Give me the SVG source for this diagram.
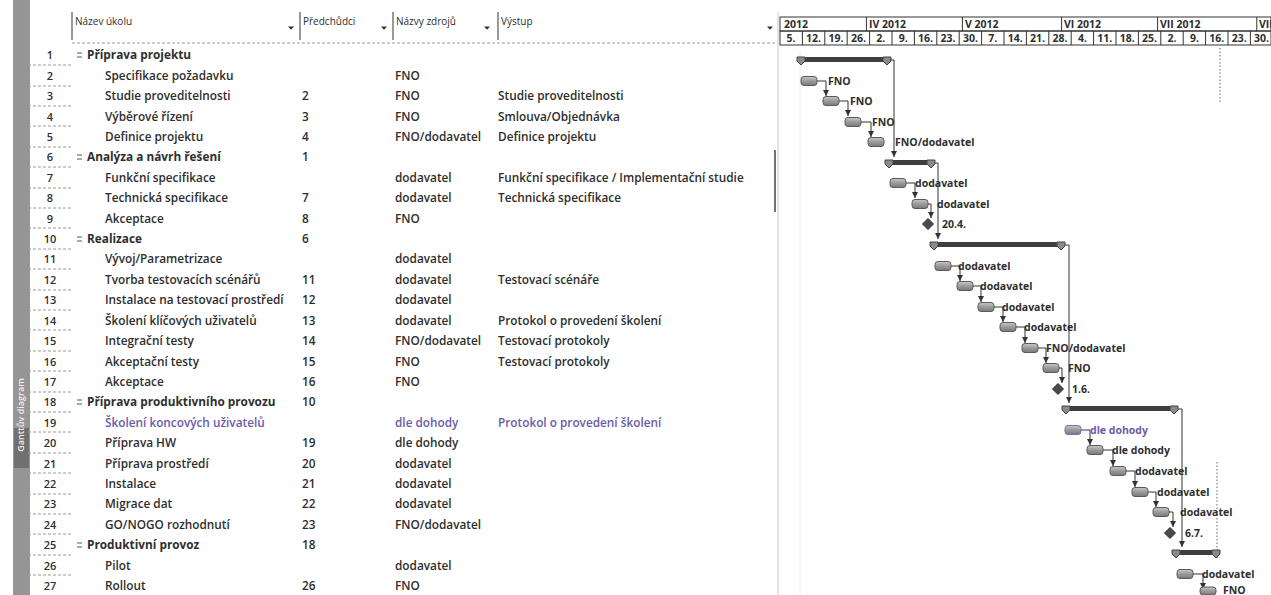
<svg xmlns="http://www.w3.org/2000/svg" xmlns:xlink="http://www.w3.org/1999/xlink" width="1271" height="595" viewBox="0 0 1271 595">
<style>
text { font-family: "Open Sans", "Liberation Sans", sans-serif; fill: #2e2e2e; }
.t { font-size: 11.8px; font-weight: 600; }
.s { font-size: 11.8px; font-weight: 700; }
.p { fill: #6b5ca8; }
.n { font-size: 11px; font-weight: 600; text-anchor: middle; }
.h { font-size: 10px; font-weight: 400; }
.tl { font-size: 10.5px; font-weight: 700; }
.wk { font-size: 10.5px; font-weight: 700; text-anchor: middle; }
.cl { font-size: 10.5px; font-weight: 700; }
.bar { fill: url(#bg); stroke: #5a5a5a; stroke-width: 1; }
.barp { fill: url(#bg); stroke: #7a6cc0; stroke-width: 1; }
.sum { fill: #3e3e3e; }
.ms { fill: #4a4a4a; stroke: #2e2e2e; stroke-width: 1; }
.lnk { fill: none; stroke: #333; stroke-width: 1; marker-end: url(#ah); }
.grid { stroke: #9a9a9a; stroke-width: 1; stroke-dasharray: 3 2; }
.hb { stroke: #333; stroke-width: 1; fill: none; }
.dd { fill: #333; }
.ol { stroke: #555; stroke-width: 1; }
</style>
<defs>
<linearGradient id="bg" x1="0" y1="0" x2="0" y2="1">
<stop offset="0" stop-color="#c8c8c8"/>
<stop offset="0.5" stop-color="#9a9a9a"/>
<stop offset="1" stop-color="#7a7a7a"/>
</linearGradient>
<path id="cap" d="M-4,-3 H4 V1 L0,5 L-4,1 Z" fill="#8a8a8a" stroke="#444" stroke-width="1"/>
<path id="dia" d="M0,-5.5 L5.5,0 L0,5.5 L-5.5,0 Z"/>
<path id="dd" d="M-3,-1.5 H3 L0,1.8 Z"/>
<marker id="ah" viewBox="0 0 6 6" refX="6" refY="3" markerWidth="6" markerHeight="6" orient="auto" markerUnits="userSpaceOnUse">
<path d="M0,0 L6,3 L0,6 Z" fill="#333"/>
</marker>
</defs>
<rect width="1271" height="595" fill="#ffffff"/>

<!-- left strip -->
<g id="strip">
<rect x="13" y="0" width="17" height="595" fill="#959595"/>
<rect x="14" y="428" width="15" height="40" fill="#707070"/>
<text x="0" y="0" transform="translate(24,415) rotate(-90)" text-anchor="middle" style="font-size:9px;font-weight:600;fill:#eeeeee">Ganttův diagram</text>
</g>

<!-- table header -->
<g id="table-header">
<line class="hb" x1="72" y1="12" x2="72" y2="40"/>
<line class="hb" x1="300" y1="12" x2="300" y2="40"/>
<line class="hb" x1="393" y1="12" x2="393" y2="40"/>
<line class="hb" x1="498" y1="12" x2="498" y2="40"/>
<line class="grid" x1="72" y1="43" x2="777" y2="43"/>
<text class="h" x="75" y="25">Název úkolu</text>
<text class="h" x="303" y="25">Předchůdci</text>
<text class="h" x="396" y="25">Názvy zdrojů</text>
<text class="h" x="501" y="25">Výstup</text>
<use href="#dd" x="291" y="28" class="dd"/>
<use href="#dd" x="384" y="28" class="dd"/>
<use href="#dd" x="487" y="28" class="dd"/>
<use href="#dd" x="770" y="28" class="dd"/>
</g>

<!-- row number grid -->
<g id="row-grid">
<line class="grid" x1="28" y1="65" x2="72" y2="65"/>
<line class="grid" x1="28" y1="86" x2="72" y2="86"/>
<line class="grid" x1="28" y1="106" x2="72" y2="106"/>
<line class="grid" x1="28" y1="126" x2="72" y2="126"/>
<line class="grid" x1="28" y1="147" x2="72" y2="147"/>
<line class="grid" x1="28" y1="167" x2="72" y2="167"/>
<line class="grid" x1="28" y1="188" x2="72" y2="188"/>
<line class="grid" x1="28" y1="208" x2="72" y2="208"/>
<line class="grid" x1="28" y1="228" x2="72" y2="228"/>
<line class="grid" x1="28" y1="249" x2="72" y2="249"/>
<line class="grid" x1="28" y1="269" x2="72" y2="269"/>
<line class="grid" x1="28" y1="290" x2="72" y2="290"/>
<line class="grid" x1="28" y1="310" x2="72" y2="310"/>
<line class="grid" x1="28" y1="330" x2="72" y2="330"/>
<line class="grid" x1="28" y1="351" x2="72" y2="351"/>
<line class="grid" x1="28" y1="371" x2="72" y2="371"/>
<line class="grid" x1="28" y1="392" x2="72" y2="392"/>
<line class="grid" x1="28" y1="412" x2="72" y2="412"/>
<line class="grid" x1="28" y1="432" x2="72" y2="432"/>
<line class="grid" x1="28" y1="453" x2="72" y2="453"/>
<line class="grid" x1="28" y1="473" x2="72" y2="473"/>
<line class="grid" x1="28" y1="494" x2="72" y2="494"/>
<line class="grid" x1="28" y1="514" x2="72" y2="514"/>
<line class="grid" x1="28" y1="534" x2="72" y2="534"/>
<line class="grid" x1="28" y1="555" x2="72" y2="555"/>
<line class="grid" x1="28" y1="575" x2="72" y2="575"/>
</g>

<!-- borders -->
<g id="borders">
<line x1="778" y1="12" x2="778" y2="595" stroke="#c8c8c8" stroke-width="1"/>
<line x1="775" y1="150" x2="775" y2="212" stroke="#444" stroke-width="1.5"/>
<line x1="800" y1="52" x2="800" y2="595" stroke="#ececec" stroke-width="1"/>
<line x1="1220" y1="48" x2="1220" y2="104" stroke="#666" stroke-width="1" stroke-dasharray="1.5 2"/>
<line x1="1217" y1="462" x2="1217" y2="560" stroke="#666" stroke-width="1" stroke-dasharray="1.5 2"/>
</g>

<!-- timescale -->
<g id="timescale">
<rect class="hb" x="780" y="17" width="491" height="14"/>
<rect class="hb" x="780" y="31" width="491" height="14"/>
<line class="hb" x1="866.4" y1="17" x2="866.4" y2="31"/>
<line class="hb" x1="962.4" y1="17" x2="962.4" y2="31"/>
<line class="hb" x1="1061.6" y1="17" x2="1061.6" y2="31"/>
<line class="hb" x1="1157.6" y1="17" x2="1157.6" y2="31"/>
<line class="hb" x1="1256.8" y1="17" x2="1256.8" y2="31"/>
<text class="tl" x="784" y="28">2012</text>
<text class="tl" x="869" y="28">IV 2012</text>
<text class="tl" x="965" y="28">V 2012</text>
<text class="tl" x="1064" y="28">VI 2012</text>
<text class="tl" x="1160" y="28">VII 2012</text>
<text class="tl" x="1259" y="28">VIII 2012</text>
<path class="hb" d="M802.4,31V45 M824.8,31V45 M847.2,31V45 M869.6,31V45 M892,31V45 M914.4,31V45 M936.8,31V45 M959.2,31V45 M981.6,31V45 M1004,31V45 M1026.4,31V45 M1048.8,31V45 M1071.2,31V45 M1093.6,31V45 M1116,31V45 M1138.4,31V45 M1160.8,31V45 M1183.2,31V45 M1205.6,31V45 M1228,31V45 M1250.4,31V45"/>
<text class="wk" x="791" y="42">5.</text>
<text class="wk" x="813.6" y="42">12.</text>
<text class="wk" x="836" y="42">19.</text>
<text class="wk" x="858.4" y="42">26.</text>
<text class="wk" x="880.8" y="42">2.</text>
<text class="wk" x="903.2" y="42">9.</text>
<text class="wk" x="925.6" y="42">16.</text>
<text class="wk" x="948" y="42">23.</text>
<text class="wk" x="970.4" y="42">30.</text>
<text class="wk" x="992.8" y="42">7.</text>
<text class="wk" x="1015.2" y="42">14.</text>
<text class="wk" x="1037.6" y="42">21.</text>
<text class="wk" x="1060" y="42">28.</text>
<text class="wk" x="1082.4" y="42">4.</text>
<text class="wk" x="1104.8" y="42">11.</text>
<text class="wk" x="1127.2" y="42">18.</text>
<text class="wk" x="1149.6" y="42">25.</text>
<text class="wk" x="1172" y="42">2.</text>
<text class="wk" x="1194.4" y="42">9.</text>
<text class="wk" x="1216.8" y="42">16.</text>
<text class="wk" x="1239.2" y="42">23.</text>
<text class="wk" x="1261.6" y="42">30.</text>
</g>

<!-- connectors -->
<g id="links">
<path class="lnk" d="M891,60 H894 V157"/>
<path class="lnk" d="M817,81 H826 V96"/>
<path class="lnk" d="M839,101 H848 V116"/>
<path class="lnk" d="M861,122 H871 V137"/>
<path class="lnk" d="M935,163 H938 V239"/>
<path class="lnk" d="M906,183 H915 V198"/>
<path class="lnk" d="M928,204 H931 V218"/>
<path class="lnk" d="M1065,245 H1069 V403"/>
<path class="lnk" d="M951,266 H960 V281"/>
<path class="lnk" d="M973,286 H981 V302"/>
<path class="lnk" d="M994,307 H1003 V322"/>
<path class="lnk" d="M1016,327 H1025 V343"/>
<path class="lnk" d="M1038,348 H1046 V363"/>
<path class="lnk" d="M1059,368 H1062 V383"/>
<path class="lnk" d="M1178,409 H1182 V547"/>
<path class="lnk" d="M1081,430 H1090 V445"/>
<path class="lnk" d="M1103,450 H1113 V466"/>
<path class="lnk" d="M1126,471 H1135 V487"/>
<path class="lnk" d="M1148,492 H1156 V507"/>
<path class="lnk" d="M1169,512 H1173 V527"/>
<path class="lnk" d="M1193,574 H1203 V589"/>
</g>

<!-- rows -->
<g id="task-1">
<text class="n" x="50" y="59">1</text>
<line class="ol" x1="77" y1="53" x2="82" y2="53"/><line class="ol" x1="77" y1="57" x2="82" y2="57"/>
<text class="s" x="87" y="59">Příprava projektu</text>
<rect class="sum" x="801" y="57" width="86" height="5"/>
<use href="#cap" x="801" y="60"/><use href="#cap" x="887" y="60"/>
</g>
<g id="task-2">
<text class="n" x="50" y="80">2</text>
<text class="t" x="105" y="80">Specifikace požadavku</text>
<text class="t" x="395" y="80">FNO</text>
<rect class="bar" x="801" y="76.5" width="16" height="9" rx="3"/>
<text class="cl" x="828" y="85">FNO</text>
</g>
<g id="task-3">
<text class="n" x="50" y="100">3</text>
<text class="t" x="105" y="100">Studie proveditelnosti</text>
<text class="t" x="302" y="100">2</text>
<text class="t" x="395" y="100">FNO</text>
<text class="t" x="498" y="100">Studie proveditelnosti</text>
<rect class="bar" x="823" y="96.5" width="16" height="9" rx="3"/>
<text class="cl" x="850" y="105">FNO</text>
</g>
<g id="task-4">
<text class="n" x="50" y="121">4</text>
<text class="t" x="105" y="121">Výběrové řízení</text>
<text class="t" x="302" y="121">3</text>
<text class="t" x="395" y="121">FNO</text>
<text class="t" x="498" y="121">Smlouva/Objednávka</text>
<rect class="bar" x="845" y="117.5" width="16" height="9" rx="3"/>
<text class="cl" x="872" y="126">FNO</text>
</g>
<g id="task-5">
<text class="n" x="50" y="141">5</text>
<text class="t" x="105" y="141">Definice projektu</text>
<text class="t" x="302" y="141">4</text>
<text class="t" x="395" y="141">FNO/dodavatel</text>
<text class="t" x="498" y="141">Definice projektu</text>
<rect class="bar" x="868" y="137.5" width="16" height="9" rx="3"/>
<text class="cl" x="895" y="146">FNO/dodavatel</text>
</g>
<g id="task-6">
<text class="n" x="50" y="161">6</text>
<line class="ol" x1="77" y1="155" x2="82" y2="155"/><line class="ol" x1="77" y1="159" x2="82" y2="159"/>
<text class="s" x="87" y="161">Analýza a návrh řešení</text>
<text class="t" x="302" y="161">1</text>
<rect class="sum" x="889" y="160" width="42" height="5"/>
<use href="#cap" x="889" y="163"/><use href="#cap" x="931" y="163"/>
</g>
<g id="task-7">
<text class="n" x="50" y="182">7</text>
<text class="t" x="105" y="182">Funkční specifikace</text>
<text class="t" x="395" y="182">dodavatel</text>
<text class="t" x="498" y="182">Funkční specifikace / Implementační studie</text>
<rect class="bar" x="890" y="178.5" width="16" height="9" rx="3"/>
<text class="cl" x="915" y="187">dodavatel</text>
</g>
<g id="task-8">
<text class="n" x="50" y="202">8</text>
<text class="t" x="105" y="202">Technická specifikace</text>
<text class="t" x="302" y="202">7</text>
<text class="t" x="395" y="202">dodavatel</text>
<text class="t" x="498" y="202">Technická specifikace</text>
<rect class="bar" x="912" y="199.5" width="16" height="9" rx="3"/>
<text class="cl" x="937" y="208">dodavatel</text>
</g>
<g id="task-9">
<text class="n" x="50" y="223">9</text>
<text class="t" x="105" y="223">Akceptace</text>
<text class="t" x="302" y="223">8</text>
<text class="t" x="395" y="223">FNO</text>
<use href="#dia" x="928" y="224" class="ms"/>
<text class="cl" x="942" y="228">20.4.</text>
</g>
<g id="task-10">
<text class="n" x="50" y="243">10</text>
<line class="ol" x1="77" y1="237" x2="82" y2="237"/><line class="ol" x1="77" y1="241" x2="82" y2="241"/>
<text class="s" x="87" y="243">Realizace</text>
<text class="t" x="302" y="243">6</text>
<rect class="sum" x="934" y="242" width="127" height="5"/>
<use href="#cap" x="934" y="245"/><use href="#cap" x="1061" y="245"/>
</g>
<g id="task-11">
<text class="n" x="50" y="263">11</text>
<text class="t" x="105" y="263">Vývoj/Parametrizace</text>
<text class="t" x="395" y="263">dodavatel</text>
<rect class="bar" x="935" y="261.5" width="16" height="9" rx="3"/>
<text class="cl" x="958" y="270">dodavatel</text>
</g>
<g id="task-12">
<text class="n" x="50" y="284">12</text>
<text class="t" x="105" y="284">Tvorba testovacích scénářů</text>
<text class="t" x="302" y="284">11</text>
<text class="t" x="395" y="284">dodavatel</text>
<text class="t" x="498" y="284">Testovací scénáře</text>
<rect class="bar" x="957" y="281.5" width="16" height="9" rx="3"/>
<text class="cl" x="980" y="290">dodavatel</text>
</g>
<g id="task-13">
<text class="n" x="50" y="304">13</text>
<text class="t" x="105" y="304">Instalace na testovací prostředí</text>
<text class="t" x="302" y="304">12</text>
<text class="t" x="395" y="304">dodavatel</text>
<rect class="bar" x="978" y="302.5" width="16" height="9" rx="3"/>
<text class="cl" x="1002" y="311">dodavatel</text>
</g>
<g id="task-14">
<text class="n" x="50" y="325">14</text>
<text class="t" x="105" y="325">Školení klíčových uživatelů</text>
<text class="t" x="302" y="325">13</text>
<text class="t" x="395" y="325">dodavatel</text>
<text class="t" x="498" y="325">Protokol o provedení školení</text>
<rect class="bar" x="1000" y="322.5" width="16" height="9" rx="3"/>
<text class="cl" x="1024" y="331">dodavatel</text>
</g>
<g id="task-15">
<text class="n" x="50" y="345">15</text>
<text class="t" x="105" y="345">Integrační testy</text>
<text class="t" x="302" y="345">14</text>
<text class="t" x="395" y="345">FNO/dodavatel</text>
<text class="t" x="498" y="345">Testovací protokoly</text>
<rect class="bar" x="1022" y="343.5" width="16" height="9" rx="3"/>
<text class="cl" x="1046" y="352">FNO/dodavatel</text>
</g>
<g id="task-16">
<text class="n" x="50" y="366">16</text>
<text class="t" x="105" y="366">Akceptační testy</text>
<text class="t" x="302" y="366">15</text>
<text class="t" x="395" y="366">FNO</text>
<text class="t" x="498" y="366">Testovací protokoly</text>
<rect class="bar" x="1043" y="363.5" width="16" height="9" rx="3"/>
<text class="cl" x="1068" y="372">FNO</text>
</g>
<g id="task-17">
<text class="n" x="50" y="386">17</text>
<text class="t" x="105" y="386">Akceptace</text>
<text class="t" x="302" y="386">16</text>
<text class="t" x="395" y="386">FNO</text>
<use href="#dia" x="1058" y="389" class="ms"/>
<text class="cl" x="1072" y="393">1.6.</text>
</g>
<g id="task-18">
<text class="n" x="50" y="406">18</text>
<line class="ol" x1="77" y1="400" x2="82" y2="400"/><line class="ol" x1="77" y1="404" x2="82" y2="404"/>
<text class="s" x="87" y="406">Příprava produktivního provozu</text>
<text class="t" x="302" y="406">10</text>
<rect class="sum" x="1066" y="406" width="108" height="5"/>
<use href="#cap" x="1066" y="409"/><use href="#cap" x="1174" y="409"/>
</g>
<g id="task-19">
<text class="n" x="50" y="427">19</text>
<text class="t p" x="105" y="427">Školení koncových uživatelů</text>
<text class="t p" x="395" y="427">dle dohody</text>
<text class="t p" x="498" y="427">Protokol o provedení školení</text>
<rect class="barp" x="1065" y="425.5" width="16" height="9" rx="3"/>
<text class="cl p" x="1090" y="434">dle dohody</text>
</g>
<g id="task-20">
<text class="n" x="50" y="447">20</text>
<text class="t" x="105" y="447">Příprava HW</text>
<text class="t" x="302" y="447">19</text>
<text class="t" x="395" y="447">dle dohody</text>
<rect class="bar" x="1087" y="445.5" width="16" height="9" rx="3"/>
<text class="cl" x="1112" y="454">dle dohody</text>
</g>
<g id="task-21">
<text class="n" x="50" y="468">21</text>
<text class="t" x="105" y="468">Příprava prostředí</text>
<text class="t" x="302" y="468">20</text>
<text class="t" x="395" y="468">dodavatel</text>
<rect class="bar" x="1110" y="466.5" width="16" height="9" rx="3"/>
<text class="cl" x="1135" y="475">dodavatel</text>
</g>
<g id="task-22">
<text class="n" x="50" y="488">22</text>
<text class="t" x="105" y="488">Instalace</text>
<text class="t" x="302" y="488">21</text>
<text class="t" x="395" y="488">dodavatel</text>
<rect class="bar" x="1132" y="487.5" width="16" height="9" rx="3"/>
<text class="cl" x="1157" y="496">dodavatel</text>
</g>
<g id="task-23">
<text class="n" x="50" y="508">23</text>
<text class="t" x="105" y="508">Migrace dat</text>
<text class="t" x="302" y="508">22</text>
<text class="t" x="395" y="508">dodavatel</text>
<rect class="bar" x="1153" y="507.5" width="16" height="9" rx="3"/>
<text class="cl" x="1180" y="516">dodavatel</text>
</g>
<g id="task-24">
<text class="n" x="50" y="529">24</text>
<text class="t" x="105" y="529">GO/NOGO rozhodnutí</text>
<text class="t" x="302" y="529">23</text>
<text class="t" x="395" y="529">FNO/dodavatel</text>
<use href="#dia" x="1170" y="533" class="ms"/>
<text class="cl" x="1185" y="537">6.7.</text>
</g>
<g id="task-25">
<text class="n" x="50" y="549">25</text>
<line class="ol" x1="77" y1="543" x2="82" y2="543"/><line class="ol" x1="77" y1="547" x2="82" y2="547"/>
<text class="s" x="87" y="549">Produktivní provoz</text>
<text class="t" x="302" y="549">18</text>
<rect class="sum" x="1176" y="550" width="40" height="5"/>
<use href="#cap" x="1176" y="553"/><use href="#cap" x="1216" y="553"/>
</g>
<g id="task-26">
<text class="n" x="50" y="570">26</text>
<text class="t" x="105" y="570">Pilot</text>
<text class="t" x="395" y="570">dodavatel</text>
<rect class="bar" x="1177" y="569.5" width="16" height="9" rx="3"/>
<text class="cl" x="1202" y="578">dodavatel</text>
</g>
<g id="task-27">
<text class="n" x="50" y="590">27</text>
<text class="t" x="105" y="590">Rollout</text>
<text class="t" x="302" y="590">26</text>
<text class="t" x="395" y="590">FNO</text>
<rect class="bar" x="1200" y="587" width="16" height="8" rx="3"/>
<text class="cl" x="1223" y="594">FNO</text>
</g>
</svg>
